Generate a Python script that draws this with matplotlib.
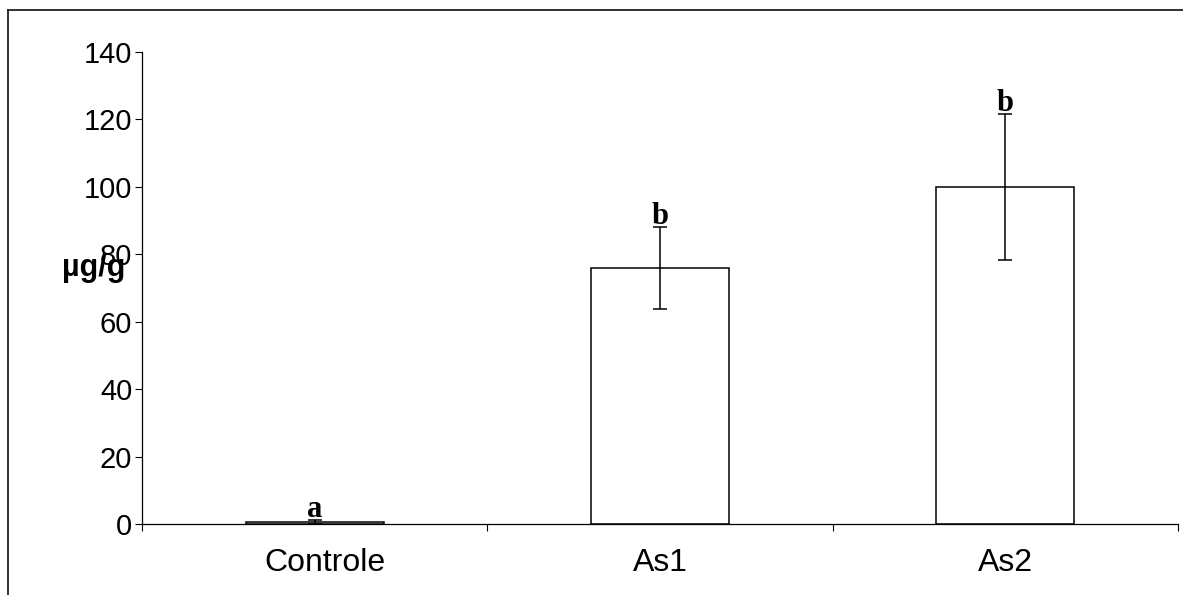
import matplotlib
matplotlib.use("Agg")
from matplotlib import pyplot as plt
from matplotlib.lines import Line2D
from matplotlib.transforms import ScaledTranslation

# values
groups = ["Controle", "As1", "As2"]
means = [0.7, 76.0, 100.0]
errors = [0.6, 12.2, 21.6]
letters = ["a", "b", "b"]
yticks = [0, 20, 40, 60, 80, 100, 120, 140]

plt.rcParams['font.family'] = ['Liberation Sans', 'DejaVu Sans']

W, H = 1183, 595
fig = plt.figure(figsize=(W / 100, H / 100), dpi=100)
ax = fig.add_axes([142 / W, (H - 524) / H, 1036 / W, 472 / H])

xs = list(range(len(groups)))
ax.bar(xs, means, width=0.4, color="white", edgecolor="black",
       linewidth=1.1, zorder=2)
ax.errorbar(xs, means, yerr=errors, fmt="none", ecolor="black",
            elinewidth=1.1, capsize=5, capthick=1.1, zorder=3)

# significance letters above the error bars
for x, m, e, t in zip(xs, means, errors, letters):
    ax.annotate(t, (x, m + e), xytext=(0, 2), textcoords="offset points",
                ha="center", va="baseline", fontsize=22, fontweight="bold",
                family=["Liberation Serif", "DejaVu Serif"])

ax.set_xlim(-0.5, len(groups) - 0.5)
ax.set_ylim(0, 140)
ax.set_yticks(yticks)
ax.set_yticklabels([str(v) for v in yticks])

# major x ticks mark category boundaries, labels sit on minor ticks
ax.set_xticks([i - 0.5 for i in range(len(groups) + 1)])
ax.set_xticklabels([])
ax.set_xticks(xs, minor=True)
ax.set_xticklabels(groups, minor=True)
ax.tick_params(axis="x", which="major", direction="out", length=5, width=0.8)
ax.tick_params(axis="x", which="minor", length=0, pad=17, labelsize=23)
ax.tick_params(axis="y", direction="out", length=5, width=0.8, pad=2,
               labelsize=21)

# first category label sits a little right of centre in the original
lab = ax.get_xticklabels(minor=True)[0]
lab.set_transform(lab.get_transform() +
                  ScaledTranslation(0.1, 0, fig.dpi_scale_trans))

for s in ["top", "right"]:
    ax.spines[s].set_visible(False)
for s in ["left", "bottom"]:
    ax.spines[s].set_linewidth(0.9)

fig.text(62 / W, 1 - 268 / H, "µg/g", ha="left", va="center",
         fontsize=22, fontweight="bold")

# outer frame (top and left edges visible in the source image)
fig.add_artist(Line2D([8 / W, 1.0], [1 - 10 / H, 1 - 10 / H],
                      transform=fig.transFigure, color="#222222", lw=1.3))
fig.add_artist(Line2D([8 / W, 8 / W], [0.0, 1 - 10 / H],
                      transform=fig.transFigure, color="#222222", lw=1.3))

fig.savefig("out.png", dpi=100)
